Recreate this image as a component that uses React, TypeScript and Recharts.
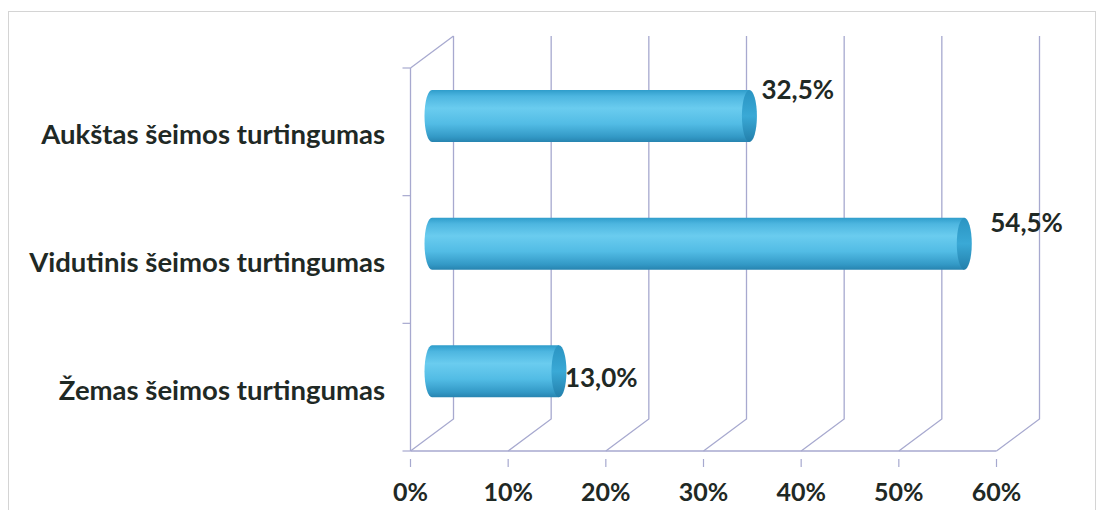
import { BarChart, Bar, XAxis, YAxis, CartesianGrid, LabelList } from 'recharts'

const categories = ['Aukštas šeimos turtingumas', 'Vidutinis šeimos turtingumas', 'Žemas šeimos turtingumas']
const values = [32.5, 54.5, 13.0]
const valueLabels = ['32,5%', '54,5%', '13,0%']
const xTicks = [0, 10, 20, 30, 40, 50, 60]

const data = categories.map((name, i) => ({ name, value: values[i], label: valueLabels[i] }))

// half of the 3D depth: front plane is shifted (-DX, +DY), back plane (+DX, -DY)
const DX = 21.5
const DY = 16
const GRID = '#a7a9cf'
const TEXT = '#1f2925'
const FONT = 'Lato, "Open Sans", sans-serif'

// small nudges so the labels sit where Excel put them
const labelNudge = [
  { dx: 12, dy: -27 },
  { dx: 26, dy: -22 },
  { dx: 6, dy: 6 },
]

// eslint-disable-next-line @typescript-eslint/no-explicit-any
function Cylinder(props: any) {
  const { x, y, width, height } = props
  const rx = 7.5
  const ry = height / 2
  const cy = y + ry
  const end = x + width
  return (
    <g>
      <path
        d={`M${x},${y} L${end},${y} L${end},${y + height} L${x},${y + height} A${rx},${ry} 0 0 1 ${x},${y} Z`}
        fill="url(#cylBody)"
      />
      <ellipse cx={end} cy={cy} rx={rx} ry={ry} fill="url(#cylCap)" />
    </g>
  )
}

// eslint-disable-next-line @typescript-eslint/no-explicit-any
function ValueLabel(props: any) {
  const { x, y, width, height, value, index } = props
  const n = labelNudge[index] || { dx: 10, dy: 0 }
  return (
    <text
      x={x + width + n.dx}
      y={y + height / 2 + n.dy}
      dominantBaseline="central"
      fontFamily={FONT}
      fontWeight={700}
      fontSize={26}
      fill={TEXT}
    >
      {value}
    </text>
  )
}

// eslint-disable-next-line @typescript-eslint/no-explicit-any
function CategoryTick(props: any) {
  const { x, y, payload } = props
  return (
    <text
      x={x - 39}
      y={y + DY + 2}
      textAnchor="end"
      dominantBaseline="central"
      fontFamily={FONT}
      fontWeight={700}
      fontSize={27.5}
      fill={TEXT}
    >
      {payload.value}
    </text>
  )
}

// eslint-disable-next-line @typescript-eslint/no-explicit-any
function PercentTick(props: any) {
  const { x, y, payload } = props
  const fx = x - DX
  const fy = y + DY
  return (
    <g>
      <line x1={fx} y1={fy} x2={fx} y2={fy + 8} stroke={GRID} strokeWidth={1.2} />
      <text
        x={fx}
        y={fy + 32}
        textAnchor="middle"
        dominantBaseline="central"
        fontFamily={FONT}
        fontWeight={700}
        fontSize={25}
        fill={TEXT}
      >
        {`${payload.value}%`}
      </text>
    </g>
  )
}

// eslint-disable-next-line @typescript-eslint/no-explicit-any
function VerticalWall(props: any) {
  const { x1, y, height } = props
  const top = y
  const bottom = y + height
  return (
    <path
      key={props.key}
      d={`M${x1 + DX},${top - DY} L${x1 + DX},${bottom - DY} L${x1 - DX},${bottom + DY}`}
      fill="none"
      stroke={GRID}
      strokeWidth={1.3}
    />
  )
}

// eslint-disable-next-line @typescript-eslint/no-explicit-any
function LeftWall(props: any) {
  const { x1, x2, y1, index, horizontalPoints } = props
  const fx = x1 - DX
  const last = horizontalPoints ? horizontalPoints.length - 1 : 3
  return (
    <g key={props.key}>
      <line x1={fx - 8} y1={y1 + DY} x2={fx} y2={y1 + DY} stroke={GRID} strokeWidth={1.2} />
      {index === 0 && (
        <path
          d={`M${fx},${y1 + DY} L${x1 + DX},${y1 - DY}`}
          fill="none"
          stroke={GRID}
          strokeWidth={1.3}
        />
      )}
      {index === last && (
        <>
          <line x1={fx} y1={horizontalPoints[0] + DY} x2={fx} y2={y1 + DY} stroke={GRID} strokeWidth={1.3} />
          <line x1={fx} y1={y1 + DY} x2={x2 - DX} y2={y1 + DY} stroke={GRID} strokeWidth={1.3} />
        </>
      )}
    </g>
  )
}

export default function App() {
  return (
    <div style={{ position: 'absolute', left: 0, top: 0, width: 1098, height: 510, background: '#fff' }}>
      <div
        style={{
          position: 'absolute',
          left: 8,
          top: 11,
          width: 1088,
          height: 520,
          border: '1.5px solid #d4d4d4',
          boxSizing: 'border-box',
        }}
      />
      <BarChart
        width={1098}
        height={510}
        data={data}
        layout="vertical"
        margin={{ top: 52, right: 80, bottom: 0, left: 0 }}
        barCategoryGap="30%"
        style={{ position: 'absolute', left: 0, top: 0 }}
      >
        <defs>
          <linearGradient id="cylBody" x1="0" y1="0" x2="0" y2="1">
            <stop offset="0%" stopColor="#2f9dcb" />
            <stop offset="12%" stopColor="#4db6e0" />
            <stop offset="35%" stopColor="#6accef" />
            <stop offset="65%" stopColor="#52bce5" />
            <stop offset="90%" stopColor="#3399c6" />
            <stop offset="100%" stopColor="#2784b0" />
          </linearGradient>
          <linearGradient id="cylCap" x1="0" y1="0" x2="0" y2="1">
            <stop offset="0%" stopColor="#2a94c2" />
            <stop offset="50%" stopColor="#3aa9d6" />
            <stop offset="100%" stopColor="#237fab" />
          </linearGradient>
        </defs>
        <CartesianGrid
          vertical={VerticalWall}
          horizontal={LeftWall}
          horizontalCoordinatesGenerator={({ offset }: any) =>
            [0, 1, 2, 3].map((i) => offset.top + (offset.height * i) / 3)
          }
        />
        <XAxis
          type="number"
          domain={[0, 60]}
          ticks={xTicks}
          height={75}
          axisLine={false}
          tickLine={false}
          tick={PercentTick}
          interval={0}
        />
        <YAxis
          type="category"
          dataKey="name"
          width={432}
          axisLine={false}
          tickLine={false}
          tick={CategoryTick}
          interval={0}
        />
        <Bar dataKey="value" barSize={52} shape={Cylinder} isAnimationActive={false}>
          <LabelList dataKey="label" content={ValueLabel} />
        </Bar>
      </BarChart>
    </div>
  )
}
